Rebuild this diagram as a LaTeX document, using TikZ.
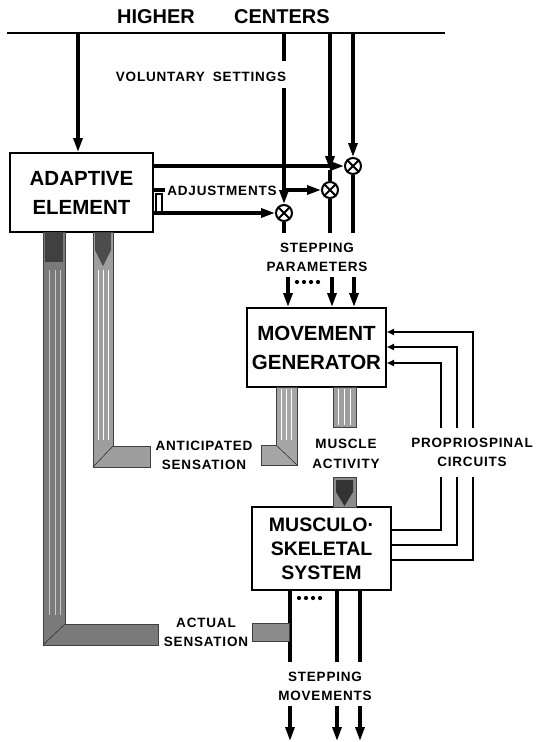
\documentclass[tikz,border=0pt]{standalone}
\usepackage{fontspec}
\setmainfont{Liberation Sans}
\newfontfamily\lblfont[LetterSpace=6]{Liberation Sans}
\usetikzlibrary{arrows.meta}
\begin{document}
\begin{tikzpicture}[x=1pt,y=-1pt,
  box/.style={draw, line width=2pt, fill=white, inner sep=0pt, align=center,
    font=\bfseries\fontsize{20.5}{29}\selectfont},
  lbl/.style={font=\lblfont\bfseries\fontsize{13.5}{19.5}\selectfont, align=center, inner sep=0pt},
  big/.style={font=\bfseries\fontsize{20}{24}\selectfont, inner sep=0pt},
  ln/.style={line width=3.2pt},
  arr/.style={line width=3.2pt, -{Triangle[length=14pt,width=9pt]}},
  fb/.style={line width=2.2pt, -{Triangle[length=7pt,width=6pt]}},
  sumc/.style={circle, draw, line width=2pt, minimum size=16pt, inner sep=0pt, fill=white},
  band/.style={draw=black!75, line width=0.6pt},
  dot/.style={circle, fill=black, inner sep=0pt, minimum size=4.2pt}
]
\useasboundingbox (0,0) rectangle (537,742);

% ---------- top
\node[big] (hi) at (156,17) {HIGHER};
\node[big] (ce) at (282,17) {CENTERS};
\coordinate (tl) at (7,33);
\coordinate (tr) at (445,33);
\draw[line width=2pt] (tl) -- (tr);

% ---------- boxes
\node[box, minimum width=143pt, minimum height=79pt] (ae) at (81.5,192.5) {ADAPTIVE\\ELEMENT};
\node[box, minimum width=139pt, minimum height=79pt] (mg) at (316.5,347.5) {MOVEMENT\\GENERATOR};
\node[box, minimum width=139pt, minimum height=83pt, font=\bfseries\fontsize{19.5}{24}\selectfont] (ms) at (321.5,548.5) {MUSCULO·\\SKELETAL\\SYSTEM};

% ---------- summing junctions
\node[sumc] (s1) at (353,166) {};
\node[sumc] (s2) at (330,190) {};
\node[sumc] (s3) at (284,213) {};
\foreach \s in {s1,s2,s3}{
  \draw[line width=1.8pt] (\s.north east) -- (\s.south west);
  \draw[line width=1.8pt] (\s.north west) -- (\s.south east);
}

% ---------- labels
\node[lbl] (vol) at (201,77) {VOLUNTARY\hspace{8pt}SETTINGS};
\node[lbl] (adj) at (222,191) {ADJUSTMENTS};
\node[lbl] (sp) at (317,257.5) {STEPPING\\PARAMETERS};
\node[lbl] (as) at (204,455.5) {ANTICIPATED\\SENSATION};
\node[lbl] (ma) at (346,454) {MUSCLE\\ACTIVITY};
\node[lbl] (pc) at (472,452.5) {PROPRIOSPINAL\\CIRCUITS};
\node[lbl] (acs) at (206,632.5) {ACTUAL\\SENSATION};
\node[lbl] (sm) at (325,686.5) {STEPPING\\MOVEMENTS};
\foreach \i/\x in {1/297,2/304,3/311,4/318}{
  \node[dot] (da\i) at (\x,282) {};
  \node[dot] (db\i) at (\x+2,598) {};
}

% ---------- higher centers to adaptive element
\coordinate (h0) at (78,33);
\draw[arr] (h0) -- (h0 |- ae.north);

% voluntary settings lines
\coordinate (v1a) at (284,33);
\coordinate (v1b) at (284,61);
\coordinate (v1c) at (284,88);
\draw[ln] (v1a) -- (v1b);
\draw[arr] (v1c) -- (s3.north);
\coordinate (v2a) at (330,33);
\coordinate (v2b) at (330,170);
\draw[arr] (v2a) -- (v2b);
\draw[ln] (v2b) -- (s2.north);
\coordinate (v3a) at (353,33);
\draw[arr] (v3a) -- (s1.north);

% adjustments
\coordinate (a1) at (ae.east |- 0,166);
\coordinate (a3) at (ae.east |- 0,213);
\draw[arr] (a1) -- (s1.west);
\draw[arr] (a3) -- (s3.west);
\coordinate (a2) at (284,190);
\draw[arr] (a2) -- (s2.west);
\coordinate (b1) at (ae.east |- 0,190);
\coordinate (b2) at (165,190);
\draw[ln] (b1) -- (b2);
\draw[line width=1.6pt, fill=white] (156,194) rectangle (162,212);

% stepping parameters
\coordinate (o1) at (284,233);
\coordinate (o2) at (330,233);
\coordinate (o3) at (353,233);
\draw[ln] (s3.south) -- (o1);
\draw[ln] (s2.south) -- (o2);
\draw[ln] (s1.south) -- (o3);
\coordinate (p1) at (288,277);
\coordinate (p2) at (332,277);
\coordinate (p3) at (354,277);
\draw[arr] (p1) -- (p1 |- mg.north);
\draw[arr] (p2) -- (p2 |- mg.north);
\draw[arr] (p3) -- (p3 |- mg.north);

% ---------- propriospinal circuits
\foreach \x/\ym/\ys in {441/363/530, 457/347/545, 473/332/560}{
  \draw[line width=2.2pt] (ms.east |- 0,\ys) -- (\x,\ys) -- (\x,477);
  \draw[fb] (\x,428) -- (\x,\ym) -- (mg.east |- 0,\ym);
}

% ---------- stepping movements
\foreach \x in {290,337,360}{
  \draw[ln] (ms.south -| \x,0) -- (\x,662);
  \draw[arr] (\x,706) -- (\x,741);
}

% ---------- sensation bands
% actual sensation (left long band)
\draw[band, fill=black!52] (43,232) -- (65,232) -- (65,624) -- (158,624) -- (158,645) -- (43,645) -- cycle;
\draw[black!80, line width=0.6pt] (43,645) -- (65,624);
\fill[black!75] (45,233) -- (63,233) -- (63,262) -- (45,262) -- cycle;
\foreach \x in {49,55,60}{\draw[white, line width=0.3pt, opacity=0.6] (\x,270) -- (\x,615);}
\draw[band, fill=black!45] (252,623) rectangle (289,641);

% anticipated sensation
\draw[band, fill=black!38] (93,232) -- (113,232) -- (113,446) -- (150,446) -- (150,467) -- (93,467) -- cycle;
\draw[black!80, line width=0.6pt] (93,467) -- (113,446);
\fill[black!70] (95,233) -- (111,233) -- (111,250) -- (103,266) -- (95,250) -- cycle;
\foreach \x in {98,103,108}{\draw[white, line width=0.4pt] (\x,270) -- (\x,440);}
\draw[band, fill=black!35] (276,387) -- (297,387) -- (297,465) -- (261,465) -- (261,445) -- (276,445) -- cycle;
\draw[black!80, line width=0.6pt] (276,445) -- (297,465);
\foreach \x in {281,286,291}{\draw[white, line width=0.5pt] (\x,389) -- (\x,440);}

% muscle activity
\draw[band, fill=black!38] (333,387) rectangle (356,427);
\foreach \x in {338,344,350}{\draw[white, line width=0.5pt] (\x,389) -- (\x,425);}
\draw[band, fill=black!45] (333,477) rectangle (356,507);
\fill[black!80] (336,480) -- (353,480) -- (353,492) -- (344.5,506) -- (336,492) -- cycle;
\end{tikzpicture}
\end{document}
